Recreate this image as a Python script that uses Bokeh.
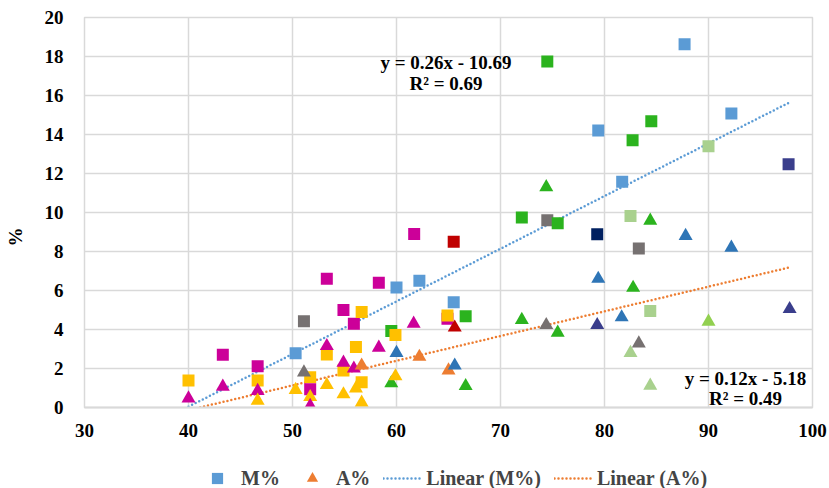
import numpy as np
from bokeh.plotting import figure
from bokeh.layouts import column, row
from bokeh.models import (ColumnDataSource, FixedTicker, Label, Legend, LegendItem, Range1d)
from bokeh.embed import file_html
from bokeh.resources import INLINE

# ---- data ----
m_x = [40.0, 43.3, 46.65, 46.65, 50.3, 51.1, 51.7, 51.7, 53.3, 53.3, 54.9, 54.9, 55.9, 56.1,
       56.65, 56.65, 58.3, 59.5, 59.9, 60.0, 61.7, 62.2, 64.9, 64.9, 65.5, 65.5, 66.65, 72.05,
       74.5, 74.5, 75.5, 79.3, 79.4, 81.7, 82.5, 82.7, 83.3, 84.4, 84.5, 87.7, 90.0, 92.2, 97.7]
m_y = [1.39, 2.7, 2.11, 1.39, 2.78, 4.42, 1.55, 0.93, 6.6, 2.72, 5.0, 1.9, 4.3, 3.1,
       4.9, 1.3, 6.4, 3.92, 3.72, 6.15, 8.9, 6.5, 4.55, 4.72, 8.5, 5.4, 4.68, 9.75,
       17.75, 9.6, 9.45, 8.88, 14.2, 11.58, 9.82, 13.7, 8.16, 4.95, 14.68, 18.63, 13.4, 15.08, 12.47]
m_c = ["yellow", "magenta", "magenta", "yellow", "lightblue", "gray", "yellow", "magenta", "magenta",
       "yellow", "magenta", "yellow", "magenta", "yellow", "yellow", "yellow", "magenta", "green",
       "yellow", "lightblue", "magenta", "lightblue", "magenta", "yellow", "red", "lightblue", "green",
       "green", "green", "gray", "green", "navy", "lightblue", "lightblue", "lightgreen", "green",
       "gray", "lightgreen", "green", "lightblue", "lightgreen", "lightblue", "indigo"]

a_x = [40.0, 43.3, 46.65, 46.65, 50.3, 51.1, 51.7, 51.7, 53.3, 53.3, 54.9, 54.9, 55.9, 56.1,
       56.65, 56.65, 58.3, 59.5, 59.9, 60.0, 61.65, 62.2, 65.0, 65.6, 65.6, 66.65, 72.05, 74.4,
       74.4, 75.5, 79.3, 79.4, 81.65, 82.5, 82.75, 83.3, 84.4, 84.4, 87.8, 90.0, 92.2, 97.8]
a_y = [0.47, 1.07, 0.85, 0.35, 0.9, 1.8, 0.54, 0.08, 3.15, 1.15, 2.3, 0.68, 2.0, 0.98,
       2.15, 0.25, 3.07, 1.25, 1.6, 2.8, 4.3, 2.6, 1.9, 4.1, 2.15, 1.1, 4.49, 11.3,
       4.23, 3.84, 4.23, 6.6, 4.63, 2.8, 6.14, 3.29, 9.58, 1.12, 8.8, 4.4, 8.2, 5.05]
a_c = ["magenta", "magenta", "magenta", "yellow", "yellow", "gray", "yellow", "magenta", "magenta",
       "yellow", "magenta", "yellow", "magenta", "yellow", "orange", "yellow", "magenta", "green",
       "yellow", "blue", "magenta", "orange", "orange", "red", "blue", "green", "green", "green",
       "gray", "green", "indigo", "blue", "blue", "lightgreen", "green", "gray", "green",
       "lightgreen", "blue", "lime", "blue", "indigo"]

x_ticks = [30, 40, 50, 60, 70, 80, 90, 100]
y_ticks = [0, 2, 4, 6, 8, 10, 12, 14, 16, 18, 20]

m_eq = ["y = 0.26x - 10.69", "R\u00b2 = 0.69"]
a_eq = ["y = 0.12x - 5.18", "R\u00b2 = 0.49"]
legend_labels = ["M%", "A%", "Linear (M%)", "Linear (A%)"]
y_title = "%"

palette = {
    "yellow": "#FFC000", "magenta": "#CC0099", "lightblue": "#5B9BD5", "gray": "#767171",
    "green": "#2BB31E", "red": "#C00000", "navy": "#002060", "indigo": "#3A3E8C",
    "lightgreen": "#A9D18E", "lime": "#92D050", "blue": "#2E75B6", "orange": "#ED7D31",
}

FONT = "Liberation Serif"
M_COLOR = "#5B9BD5"
A_COLOR = "#ED7D31"
MAIN_H = 444


def bare(fig):
    fig.axis.visible = False
    fig.grid.visible = False
    fig.outline_line_color = None
    fig.background_fill_color = "white"
    fig.border_fill_color = "white"


# ---- main figure ----
p = figure(width=799, height=MAIN_H, output_backend="svg", toolbar_location=None,
           x_range=Range1d(30, 100), y_range=Range1d(0, 20),
           min_border_left=54, min_border_right=17, min_border_top=17, min_border_bottom=37)
p.background_fill_color = "white"
p.border_fill_color = "white"
p.outline_line_color = "#D9D9D9"
p.outline_line_width = 1.5

for ax in (p.xaxis[0], p.yaxis[0]):
    ax.major_tick_line_color = None
    ax.minor_tick_line_color = None
    ax.major_label_text_font = FONT
    ax.major_label_text_font_style = "bold"
    ax.major_label_text_font_size = "19px"
    ax.major_label_text_color = "black"
    ax.axis_line_color = "#D9D9D9"
p.xaxis[0].axis_line_width = 2
p.xaxis[0].ticker = FixedTicker(ticks=x_ticks)
p.yaxis[0].ticker = FixedTicker(ticks=y_ticks)
p.xaxis[0].major_label_standoff = 10
p.yaxis[0].major_label_standoff = 15

p.xgrid.grid_line_color = "#D9D9D9"
p.ygrid.grid_line_color = "#D9D9D9"
p.xgrid.grid_line_width = 1.5
p.ygrid.grid_line_width = 1.5

# trend lines (least squares fit of the plotted points)
m_fit = np.polyfit(m_x, m_y, 1)
a_fit = np.polyfit(a_x, a_y, 1)
mx_line = [min(m_x), max(m_x)]
ax_line = [min(a_x), max(a_x)]
p.line(mx_line, list(np.polyval(m_fit, mx_line)), line_color=M_COLOR, line_width=2.5,
       line_dash="0 4", line_cap="round")
p.line(ax_line, list(np.polyval(a_fit, ax_line)), line_color=A_COLOR, line_width=2.5,
       line_dash="0 4", line_cap="round")

# scatter
msrc = ColumnDataSource(dict(x=m_x, y=m_y, c=[palette[k] for k in m_c]))
asrc = ColumnDataSource(dict(x=a_x, y=a_y, c=[palette[k] for k in a_c]))
p.scatter("x", "y", source=msrc, marker="square", size=12, fill_color="c", line_color=None)
p.scatter("x", "y", source=asrc, marker="triangle", size=14, fill_color="c", line_color=None)


def add_label(x, y, text):
    p.add_layout(Label(x=x, y=y, text=text, text_font=FONT, text_font_style="bold",
                       text_font_size="19px", text_align="center", text_baseline="middle",
                       text_color="black"))


add_label(64.76, 17.7, m_eq[0])
add_label(64.76, 16.62, m_eq[1])
add_label(93.56, 1.5, a_eq[0])
add_label(93.56, 0.45, a_eq[1])

# ---- left strip with the y-axis title ----
yf = figure(width=30, height=MAIN_H, output_backend="svg", toolbar_location=None,
            x_range=Range1d(0, 30), y_range=Range1d(0, MAIN_H),
            min_border_left=0, min_border_right=0, min_border_top=0, min_border_bottom=0)
bare(yf)
yf.add_layout(Label(x=15, y=MAIN_H - 250, text=y_title, angle=np.pi / 2,
                    text_font=FONT, text_font_style="bold", text_font_size="19px",
                    text_align="center", text_baseline="middle", text_color="black"))

# ---- legend strip ----
lf = figure(width=829, height=488 - MAIN_H, output_backend="svg", toolbar_location=None,
            x_range=Range1d(0, 10), y_range=Range1d(0, 10),
            min_border_left=0, min_border_right=0, min_border_top=0, min_border_bottom=0)
bare(lf)
# proxy renderers placed outside the visible range; they only feed the legend
off = dict(x=[-5, -4], y=[-5, -5])
r_ms = lf.scatter("x", "y", source=ColumnDataSource(off), marker="square",
                  fill_color=M_COLOR, line_color=None)
r_as = lf.scatter("x", "y", source=ColumnDataSource(off), marker="triangle",
                  fill_color=A_COLOR, line_color=None)
r_ml = lf.line("x", "y", source=ColumnDataSource(off), line_color=M_COLOR, line_width=2.5,
               line_dash="0 4", line_cap="round")
r_al = lf.line("x", "y", source=ColumnDataSource(off), line_color=A_COLOR, line_width=2.5,
               line_dash="0 4", line_cap="round")

legend = Legend(items=[LegendItem(label=legend_labels[0], renderers=[r_ms]),
                       LegendItem(label=legend_labels[1], renderers=[r_as]),
                       LegendItem(label=legend_labels[2], renderers=[r_ml]),
                       LegendItem(label=legend_labels[3], renderers=[r_al])],
                orientation="horizontal", location=(198, -4))
legend.label_text_font = FONT
legend.label_text_font_style = "bold"
legend.label_text_font_size = "20px"
legend.glyph_width = 38
legend.glyph_height = 28
legend.label_height = 20
legend.label_standoff = 5
legend.spacing = 13
legend.padding = 0
legend.margin = 0
legend.border_line_color = None
legend.background_fill_alpha = 0
lf.add_layout(legend, "center")

layout = column(row(yf, p, spacing=0), lf, spacing=0)
open("out.html", "w").write(file_html(layout, INLINE))
